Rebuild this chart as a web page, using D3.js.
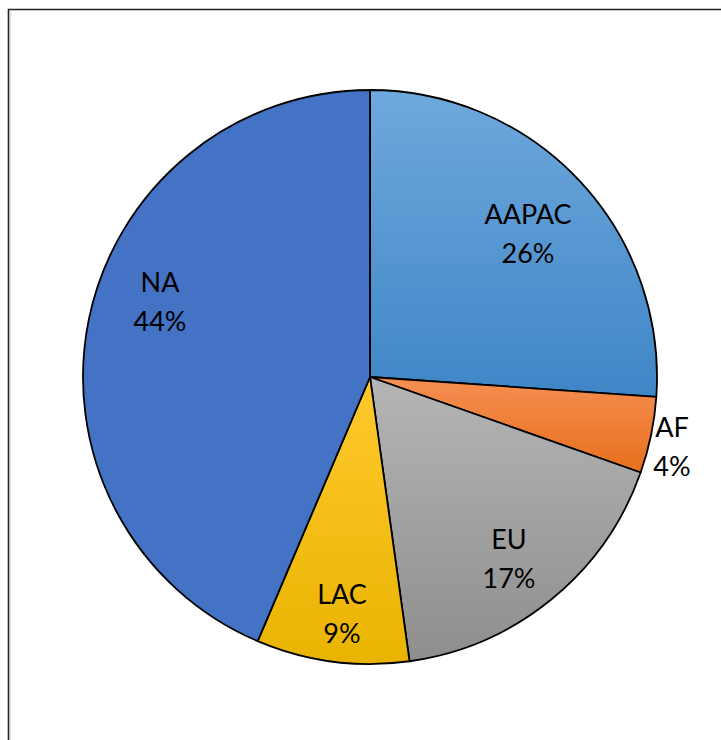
<!DOCTYPE html>
<html>
<head>
<meta charset="utf-8">
<script src="https://cdn.jsdelivr.net/npm/d3@7"></script>
<style>
  html, body { margin: 0; padding: 0; background: #fff; }
  svg { display: block; }
</style>
</head>
<body>
<svg id="chart" width="721" height="740"></svg>
<script>
const categories = ["AAPAC", "AF", "EU", "LAC", "NA"];
const values = [26.1, 4.3, 17.4, 8.6, 43.6];
const pctLabels = ["26%", "4%", "17%", "9%", "44%"];
const gradTop = ["#6fa8dc", "#f58f52", "#b5b5b5", "#ffc92e", "#4472c4"];
const gradBottom = ["#3f86c7", "#e86f1c", "#8e8e8e", "#e9b400", "#4472c4"];
// label centers (x, first-line baseline)
const labelPos = [[528, 224], [672, 437], [509, 549], [342, 604], [160, 292]];

const svg = d3.select("#chart");
const cx = 370, cy = 377, r = 287;

// frame
svg.append("path")
  .attr("d", "M8.5,745 L8.5,9.5 L730,9.5")
  .attr("fill", "none").attr("stroke", "#222").attr("stroke-width", 1.6);
svg.append("line").attr("x1", 10).attr("x2", 10).attr("y1", 11).attr("y2", 745)
  .attr("stroke", "#bbb").attr("stroke-width", 1);

const defs = svg.append("defs");
categories.forEach((c, i) => {
  const g = defs.append("linearGradient").attr("id", "g" + i)
    .attr("x1", 0).attr("y1", 0).attr("x2", 0).attr("y2", 1);
  g.append("stop").attr("offset", "0%").attr("stop-color", gradTop[i]);
  g.append("stop").attr("offset", "100%").attr("stop-color", gradBottom[i]);
});

const pie = d3.pie().sort(null).value(d => d)(values);
const arc = d3.arc().innerRadius(0).outerRadius(r);

const gPie = svg.append("g").attr("transform", `translate(${cx},${cy})`);
gPie.selectAll("path").data(pie).enter().append("path")
  .attr("d", arc)
  .attr("fill", (d, i) => `url(#g${i})`)
  .attr("stroke", "#000")
  .attr("stroke-width", 1.8)
  .attr("stroke-linejoin", "round");

const labels = svg.append("g")
  .attr("font-family", "Lato, 'Open Sans', sans-serif")
  .attr("font-size", 27)
  .attr("fill", "#000")
  .attr("text-anchor", "middle");
categories.forEach((c, i) => {
  const t = labels.append("text").attr("x", labelPos[i][0]).attr("y", labelPos[i][1]);
  t.append("tspan").attr("x", labelPos[i][0]).text(c);
  t.append("tspan").attr("x", labelPos[i][0]).attr("dy", 39).text(pctLabels[i]);
});
</script>
</body>
</html>
